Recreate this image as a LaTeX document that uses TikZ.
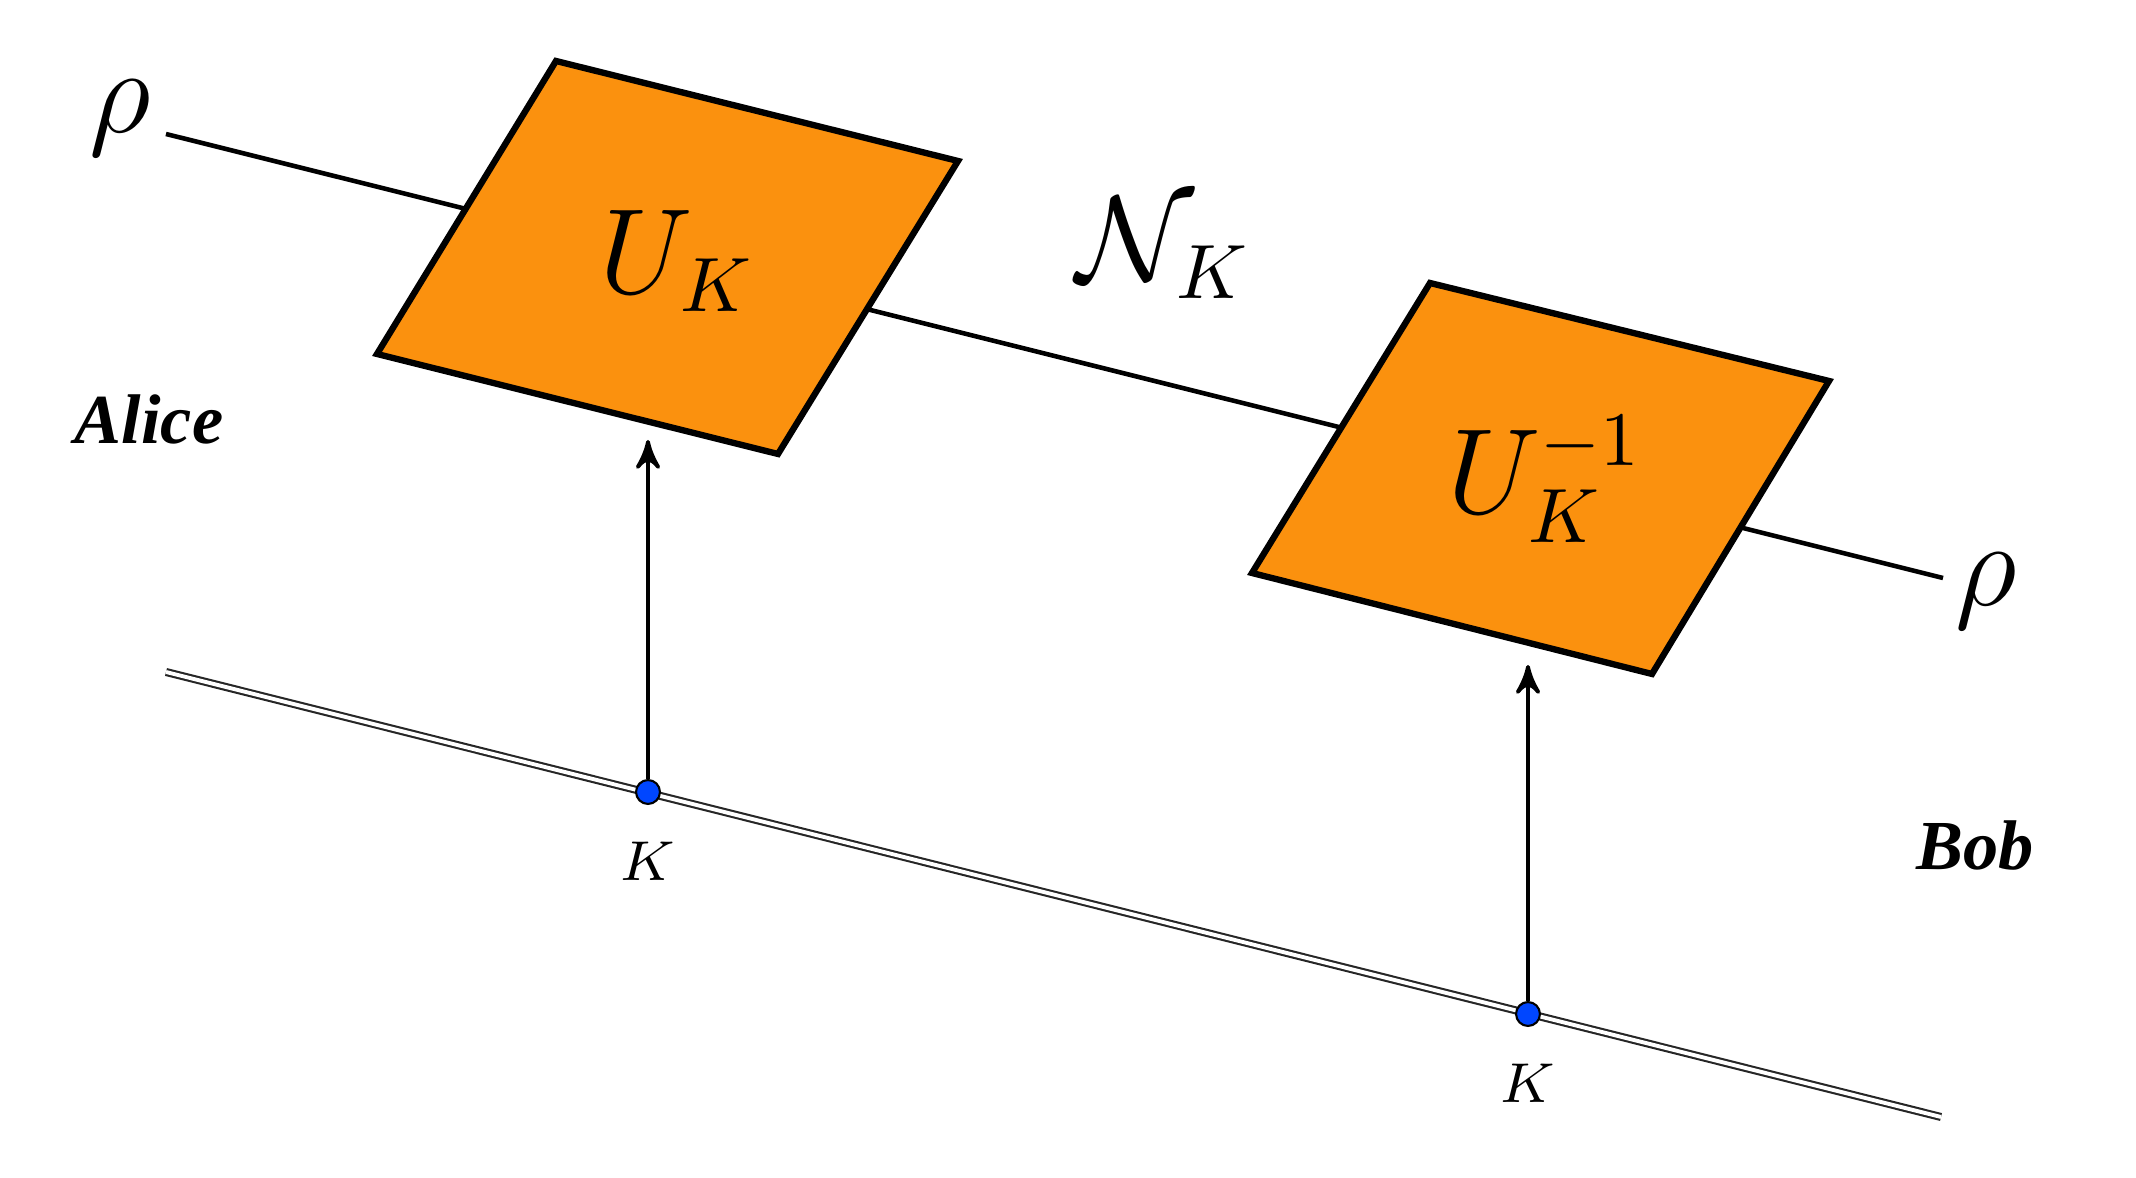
\documentclass[tikz,border=0pt]{standalone}
\usepackage{amsmath,amssymb}
\usepackage{fontspec}
\newfontfamily\namefont{Liberation Serif}
\usetikzlibrary{arrows,positioning,calc}
\definecolor{gateorange}{RGB}{251,145,14}
\definecolor{keyblue}{RGB}{0,70,255}

\begin{document}
\begin{tikzpicture}[
        wire/.style={black, line width=0.65pt},
        gate/.style={draw=black, fill=gateorange, line width=0.9pt, line join=miter},
        keyline/.style={draw=black!85, double=white, double distance=0.55pt, line width=0.3pt},
        feed/.style={->, >=stealth', line width=0.55pt},
        dot/.style={circle, fill=keyblue, draw=black, line width=0.3pt,
            minimum size=3.4pt, inner sep=0pt},
        big/.style={font=\fontsize{16}{19}\selectfont},
        party/.style={font=\fontsize{10}{12}\namefont\bfseries\itshape},
        small/.style={font=\fontsize{8.5}{10}\selectfont},
    ]
    \useasboundingbox (0,0) rectangle (10.68,5.89);
    % quantum channel
    \coordinate (wL) at (0.83,5.22);
    \coordinate (wR) at (9.715,3.0);
    \node[big] (rhoin) at (0.60,5.30) {$\rho$};
    \node[big] (rhoout) at (9.93,2.935) {$\rho$};
    \draw[wire] (wL) -- (wR);
    % classical key line
    \coordinate (kL) at (0.83,2.53);
    \coordinate (kR) at (9.705,0.305);
    \draw[keyline] (kL) -- (kR);
    % gates
    \draw[gate] (2.78,5.585) -- (4.79,5.085) -- (3.89,3.62) -- (1.885,4.12) -- cycle;
    \draw[gate] (7.15,4.475) -- (9.145,3.985) -- (8.26,2.52) -- (6.26,3.025) -- cycle;
    \node[big] (enc) at (3.385,4.585) {$U_K$};
    \node[big] (dec) at (7.725,3.495) {$U_K^{-1}$};
    \node[big] (chan) at (5.82,4.65) {$\mathcal{N}_K$};
    % parties
    \node[party] (alice) at (0.745,3.795) {Alice};
    \node[party] (bob) at (9.875,1.66) {Bob};
    % shared key
    \node[dot] (k1) at (3.24,1.93) {};
    \node[dot] (k2) at (7.64,0.82) {};
    \node[small, below=0.06cm of k1] (k1lab) {$K$};
    \node[small, below=0.06cm of k2] (k2lab) {$K$};
    \coordinate (t1) at (3.24,3.69);
    \coordinate (t2) at (7.64,2.565);
    \draw[feed] (k1) -- (t1);
    \draw[feed] (k2) -- (t2);
\end{tikzpicture}
\end{document}
